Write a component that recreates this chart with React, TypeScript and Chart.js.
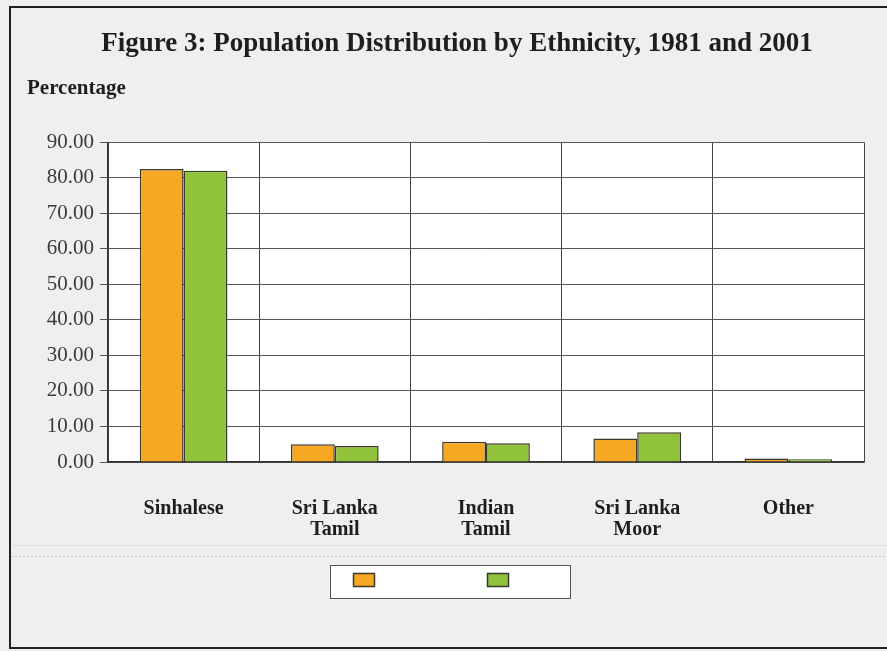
import React, { useEffect, useRef } from 'react';
import { Chart, registerables } from 'chart.js';

Chart.register(...registerables);

const categories: string[][] = [
  ['Sinhalese'],
  ['Sri Lanka', 'Tamil'],
  ['Indian', 'Tamil'],
  ['Sri Lanka', 'Moor'],
  ['Other'],
];
const seriesLabels = ['1981', '2001'];
const values1981 = [82.5, 5.0, 5.7, 6.6, 1.0];
const values2001 = [82.0, 4.5, 5.3, 8.4, 0.8];
const yMin = 0;
const yMax = 90;
const yStep = 10;

const titleText = 'Figure 3: Population Distribution by Ethnicity, 1981 and 2001';
const yAxisText = 'Percentage';

const ORANGE = '#F6A823';
const GREEN = '#91C33A';
const BAR_BORDER = '#3a3a2c';
const FONT = "'Liberation Serif', 'Times New Roman', serif";

const backgroundPlugin = {
  id: 'paperBackground',
  beforeDraw(chart: any) {
    const { ctx, width, height, chartArea } = chart;
    ctx.save();
    ctx.fillStyle = '#efefef';
    ctx.fillRect(0, 0, width, height);
    // frame
    ctx.strokeStyle = '#222';
    ctx.lineWidth = 2;
    ctx.beginPath();
    ctx.moveTo(width, 7);
    ctx.lineTo(10, 7);
    ctx.lineTo(10, 648);
    ctx.lineTo(width, 648);
    ctx.stroke();
    // separators
    ctx.strokeStyle = '#e0e0e0';
    ctx.lineWidth = 1;
    ctx.beginPath();
    ctx.moveTo(11, 545.5);
    ctx.lineTo(width, 545.5);
    ctx.stroke();
    ctx.strokeStyle = '#c4c4c4';
    ctx.setLineDash([2, 2]);
    ctx.beginPath();
    ctx.moveTo(11, 556.5);
    ctx.lineTo(width, 556.5);
    ctx.stroke();
    ctx.setLineDash([]);
    // plot area
    ctx.fillStyle = '#ffffff';
    ctx.fillRect(chartArea.left, chartArea.top, chartArea.right - chartArea.left, chartArea.bottom - chartArea.top);
    ctx.restore();
  },
};

const boxLegendPlugin = {
  id: 'boxLegend',
  afterDraw(chart: any) {
    const { ctx } = chart;
    ctx.save();
    ctx.fillStyle = '#ffffff';
    ctx.fillRect(330, 565, 240, 33);
    ctx.strokeStyle = '#555';
    ctx.lineWidth = 1;
    ctx.strokeRect(330.5, 565.5, 240, 33);
    const xs = [353, 487];
    chart.data.datasets.forEach((ds: any, i: number) => {
      ctx.fillStyle = ds.backgroundColor;
      ctx.fillRect(xs[i], 573, 21, 13);
      ctx.strokeStyle = ds.borderColor;
      ctx.lineWidth = 1.5;
      ctx.strokeRect(xs[i] + 0.5, 573.5, 21, 13);
    });
    ctx.restore();
  },
};

export default function App() {
  const canvasRef = useRef<HTMLCanvasElement | null>(null);

  useEffect(() => {
    const canvas = canvasRef.current;
    if (!canvas) return;
    const chart = new Chart(canvas, {
      type: 'bar',
      data: {
        labels: categories,
        datasets: [
          {
            label: seriesLabels[0],
            data: values1981,
            backgroundColor: ORANGE,
            borderColor: BAR_BORDER,
            borderWidth: 1.5,
            categoryPercentage: 0.58,
            barPercentage: 1.0,
          },
          {
            label: seriesLabels[1],
            data: values2001,
            backgroundColor: GREEN,
            borderColor: BAR_BORDER,
            borderWidth: 1.5,
            categoryPercentage: 0.58,
            barPercentage: 1.0,
          },
        ],
      },
      options: {
        responsive: false,
        animation: false,
        devicePixelRatio: 1,
        layout: { padding: { left: 27, right: 0, top: 28, bottom: 109 } },
        plugins: {
          legend: { display: false },
          tooltip: { enabled: false },
          title: {
            display: true,
            text: titleText,
            color: '#1e1e1e',
            font: { family: FONT, size: 27, weight: 'bold', lineHeight: 1.2 },
            padding: { top: 0, bottom: 18 },
          },
          subtitle: {
            display: true,
            text: yAxisText,
            align: 'start',
            color: '#1e1e1e',
            font: { family: FONT, size: 21, weight: 'bold', lineHeight: 1.0 },
            padding: { top: 0, bottom: 43 },
          },
        },
        scales: {
          x: {
            grid: {
              display: true,
              offset: true,
              drawTicks: false,
              color: '#444',
              lineWidth: 1,
            },
            border: { display: true, color: '#333', width: 1.5 },
            ticks: {
              color: '#1e1e1e',
              padding: 36,
              maxRotation: 0,
              autoSkip: false,
              font: { family: FONT, size: 20, weight: 'bold', lineHeight: 1.05 },
            },
            afterFit(scale: any) {
              scale.height = 80;
            },
          },
          y: {
            min: yMin,
            max: yMax,
            grid: {
              color: '#555',
              lineWidth: 1,
              drawTicks: true,
              tickLength: 8,
            },
            border: { display: true, color: '#333', width: 1.5 },
            ticks: {
              stepSize: yStep,
              color: '#3a3a3a',
              padding: 6,
              font: { family: FONT, size: 21 },
              callback: (v: any) => Number(v).toFixed(2),
            },
            afterFit(scale: any) {
              scale.width = 81;
            },
          },
          y2: {
            position: 'right',
            display: true,
            grid: { display: false, drawTicks: false },
            border: { display: false },
            ticks: { display: false },
            afterFit(scale: any) {
              scale.width = 23;
            },
          },
        },
      },
      plugins: [backgroundPlugin, boxLegendPlugin],
    } as any);
    return () => chart.destroy();
  }, []);

  return (
    <div style={{ position: 'fixed', left: 0, top: 0, width: 887, height: 651 }}>
      <canvas ref={canvasRef} width={887} height={651} style={{ width: 887, height: 651, display: 'block' }} />
    </div>
  );
}
